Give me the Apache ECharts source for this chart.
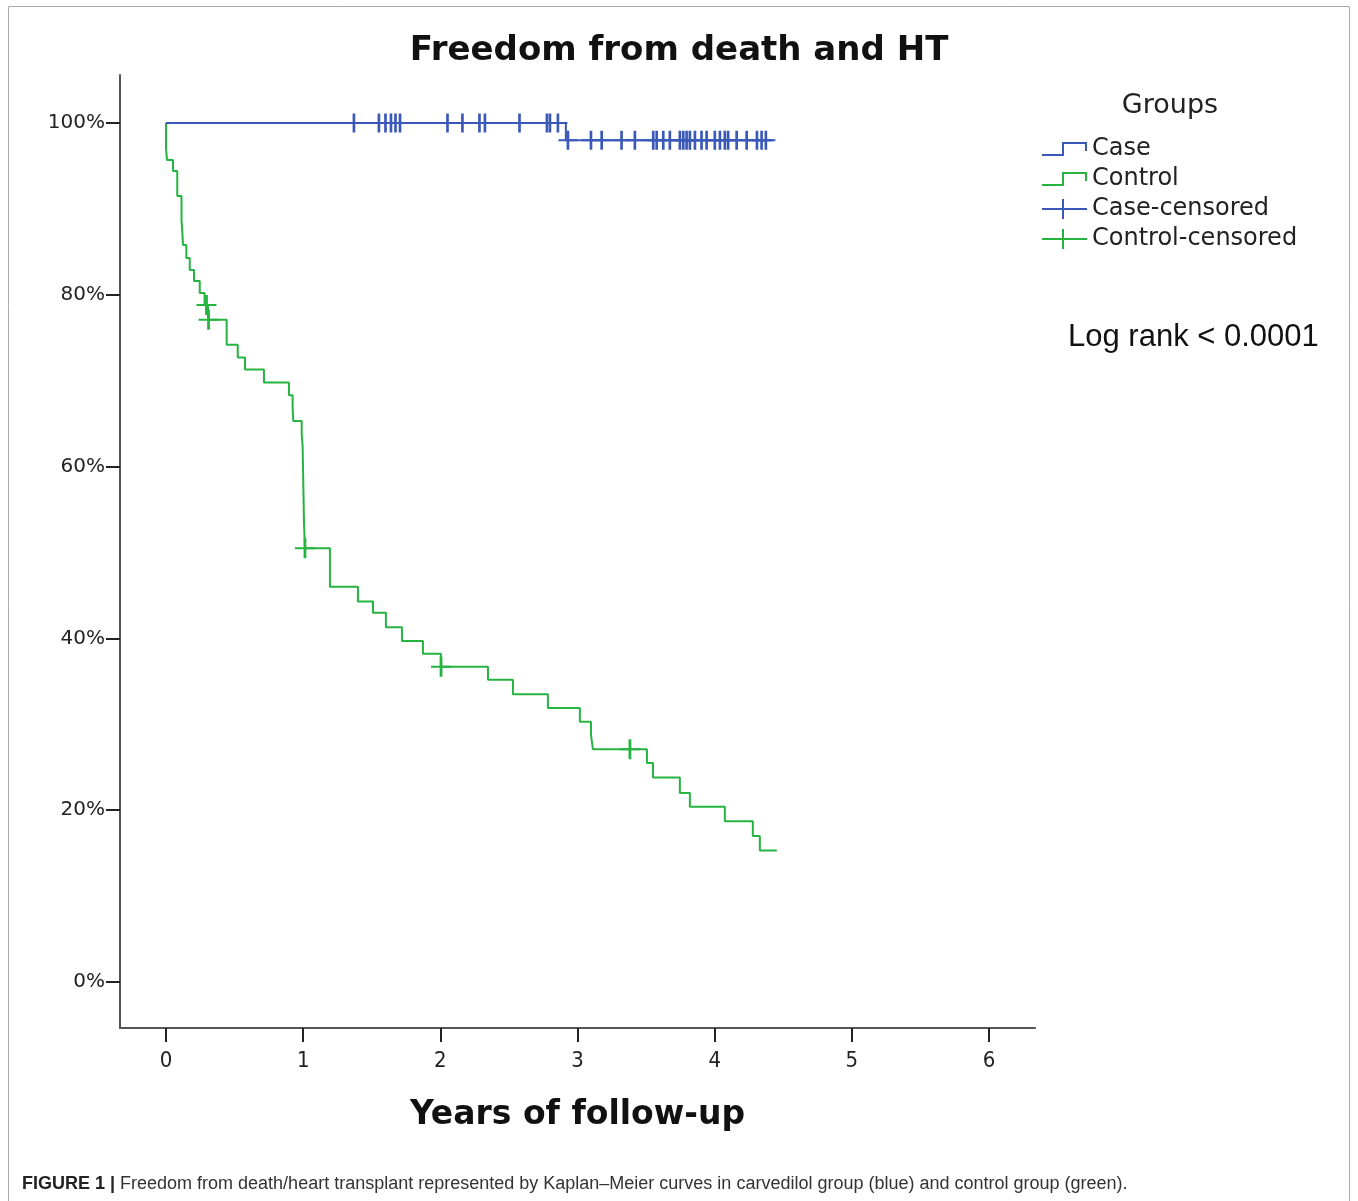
<!DOCTYPE html>
<html><head><meta charset="utf-8">
<script src="https://cdn.jsdelivr.net/npm/echarts@6/dist/echarts.min.js"></script>
<style>html,body{margin:0;padding:0;background:#fff}#c{width:1358px;height:1201px}</style>
</head><body><div id="c"></div>
<script>
// ---- data ----
const xTicks = [0, 1, 2, 3, 4, 5, 6];
const yTicks = [0, 20, 40, 60, 80, 100];
const seriesNames = ['Case', 'Control', 'Case-censored', 'Control-censored'];

// Kaplan-Meier step points [years, survival %] (value after each event)
const caseCurve = [[0, 100], [2.915, 98.0], [4.424, 98.0]];
const controlCurve = [
  [0, 100], [0.000, 97.1], [0.007, 95.7], [0.051, 94.4], [0.082, 91.5],
  [0.113, 88.7], [0.119, 87.3], [0.124, 85.8], [0.148, 84.3], [0.173, 82.9],
  [0.204, 81.6], [0.246, 80.2], [0.281, 78.8], [0.306, 77.1], [0.442, 74.2],
  [0.523, 72.7], [0.576, 71.3], [0.714, 69.8], [0.896, 68.3], [0.923, 66.8],
  [0.928, 65.3], [0.989, 63.9], [0.996, 62.3], [1.006, 53.4], [1.013, 50.5],
  [1.195, 46.0], [1.399, 44.3], [1.509, 43.0], [1.603, 41.3], [1.720, 39.7],
  [1.873, 38.2], [2.004, 36.7], [2.347, 35.2], [2.529, 33.5], [2.784, 31.9],
  [3.017, 30.3], [3.098, 28.8], [3.112, 27.1], [3.506, 25.5], [3.550, 23.8],
  [3.746, 22.0], [3.819, 20.4], [4.074, 18.7], [4.278, 17.0], [4.329, 15.3],
  [4.453, 15.3]
];
const caseCensored = [
  [1.370, 100], [1.552, 100], [1.600, 100], [1.640, 100], [1.673, 100], [1.706, 100],
  [2.052, 100], [2.161, 100], [2.285, 100], [2.325, 100], [2.577, 100], [2.777, 100],
  [2.799, 100], [2.857, 100],
  [2.930, 98.0], [3.098, 98.0], [3.176, 98.0], [3.321, 98.0], [3.418, 98.0], [3.552, 98.0],
  [3.577, 98.0], [3.625, 98.0], [3.673, 98.0], [3.746, 98.0], [3.771, 98.0], [3.795, 98.0],
  [3.819, 98.0], [3.856, 98.0], [3.904, 98.0], [3.941, 98.0], [4.001, 98.0], [4.038, 98.0],
  [4.074, 98.0], [4.098, 98.0], [4.160, 98.0], [4.233, 98.0], [4.308, 98.0], [4.342, 98.0],
  [4.373, 98.0]
];
const controlCensored = [[0.295, 78.8], [0.310, 77.1], [1.013, 50.5], [2.005, 36.7], [3.382, 27.1]];

// ---- styles ----
const BLUE = '#3a58b8';
const GREEN = '#25b440';
const stepIcon = 'path://M0,12 L20,12 L20,0 L45,0 L45,9 L43,9 L43,2 L22,2 L22,14 L0,14 Z';
const crossIcon = 'path://M0,9 L20,9 L20,0 L22,0 L22,9 L45,9 L45,11 L22,11 L22,20 L20,20 L20,11 L0,11 Z';
const plusSymbol = 'path://M-1.4,-10 L1.4,-10 L1.4,-1 L10,-1 L10,1 L1.4,1 L1.4,10 L-1.4,10 L-1.4,1 L-10,1 L-10,-1 L-1.4,-1 Z';

const chart = echarts.init(document.getElementById('c'), null, {renderer: 'canvas'});
chart.setOption({
  animation: false,
  backgroundColor: '#fff',
  title: {
    text: 'Freedom from death and HT',
    left: 'center', top: 29,
    textStyle: {fontFamily: 'DejaVu Sans', fontWeight: 'bold', fontSize: 34, color: '#111'}
  },
  grid: {left: 120, top: 75, width: 915, height: 953, containLabel: false},
  legend: {
    orient: 'vertical', left: 1042, top: 137, padding: 0,
    itemWidth: 45, itemHeight: 20, itemGap: 6, symbolKeepAspect: true,
    itemStyle: {borderWidth: 0},
    textStyle: {fontFamily: 'DejaVu Sans', fontSize: 24, lineHeight: 24, color: '#222', padding: [0, 0, 0, 0]},
    data: [
      {name: seriesNames[0], icon: stepIcon},
      {name: seriesNames[1], icon: stepIcon},
      {name: seriesNames[2], icon: crossIcon},
      {name: seriesNames[3], icon: crossIcon}
    ]
  },
  xAxis: {
    type: 'value', min: -0.3354, max: 6.335,
    name: 'Years of follow-up', nameLocation: 'middle', nameGap: 71,
    nameTextStyle: {fontFamily: 'DejaVu Sans', fontWeight: 'bold', fontSize: 33, color: '#111'},
    axisLine: {onZero: false, lineStyle: {color: '#555', width: 2}},
    axisTick: {customValues: xTicks, length: 14, lineStyle: {color: '#222', width: 2}},
    axisLabel: {customValues: xTicks, margin: 22, fontFamily: 'DejaVu Sans Condensed, DejaVu Sans', fontSize: 22, color: '#222'},
    splitLine: {show: false}
  },
  yAxis: {
    type: 'value', min: -5.355, max: 105.59,
    axisLine: {show: true, onZero: false, lineStyle: {color: '#555', width: 2}},
    axisTick: {show: true, customValues: yTicks, length: 14, lineStyle: {color: '#222', width: 2}},
    axisLabel: {customValues: yTicks, margin: 15, formatter: '{value}%', fontFamily: 'DejaVu Sans', fontSize: 20, color: '#222'},
    splitLine: {show: false}
  },
  graphic: [
    {type: 'rect', silent: true, shape: {x: 8.5, y: 6.5, width: 1341, height: 1220},
     style: {fill: 'none', stroke: '#aaa', lineWidth: 1}},
    {type: 'text', silent: true,
     style: {text: 'Groups', x: 1170, y: 106, align: 'center', verticalAlign: 'middle',
             fontFamily: 'DejaVu Sans', fontSize: 27, fill: '#222'}},
    {type: 'text', silent: true,
     style: {text: 'Log rank < 0.0001', x: 1068, y: 337, verticalAlign: 'middle',
             fontFamily: 'Liberation Sans, Arial', fontSize: 31, fill: '#111'}},
    {type: 'text', silent: true,
     style: {text: '{b|FIGURE 1 |} Freedom from death/heart transplant represented by Kaplan\u2013Meier curves in carvedilol group (blue) and control group (green).',
             x: 22, y: 1184, verticalAlign: 'middle',
             fontFamily: 'Liberation Sans, Arial', fontSize: 18, fill: '#333',
             rich: {b: {fontFamily: 'Liberation Sans, Arial', fontSize: 18, fontWeight: 'bold', fill: '#222'}}}}
  ],
  series: [
    {name: seriesNames[1], type: 'line', step: 'end', data: controlCurve, showSymbol: false,
     color: GREEN, lineStyle: {color: GREEN, width: 2}, itemStyle: {color: GREEN}, z: 2},
    {name: seriesNames[0], type: 'line', step: 'end', data: caseCurve, showSymbol: false,
     color: BLUE, lineStyle: {color: BLUE, width: 2}, itemStyle: {color: BLUE}, z: 3},
    {name: seriesNames[2], type: 'scatter', data: caseCensored, symbol: plusSymbol, symbolSize: 19,
     color: BLUE, itemStyle: {color: BLUE, opacity: 1}, z: 4},
    {name: seriesNames[3], type: 'scatter', data: controlCensored, symbol: plusSymbol, symbolSize: 20,
     color: GREEN, itemStyle: {color: GREEN, opacity: 1}, z: 4}
  ]
});
</script></body></html>
